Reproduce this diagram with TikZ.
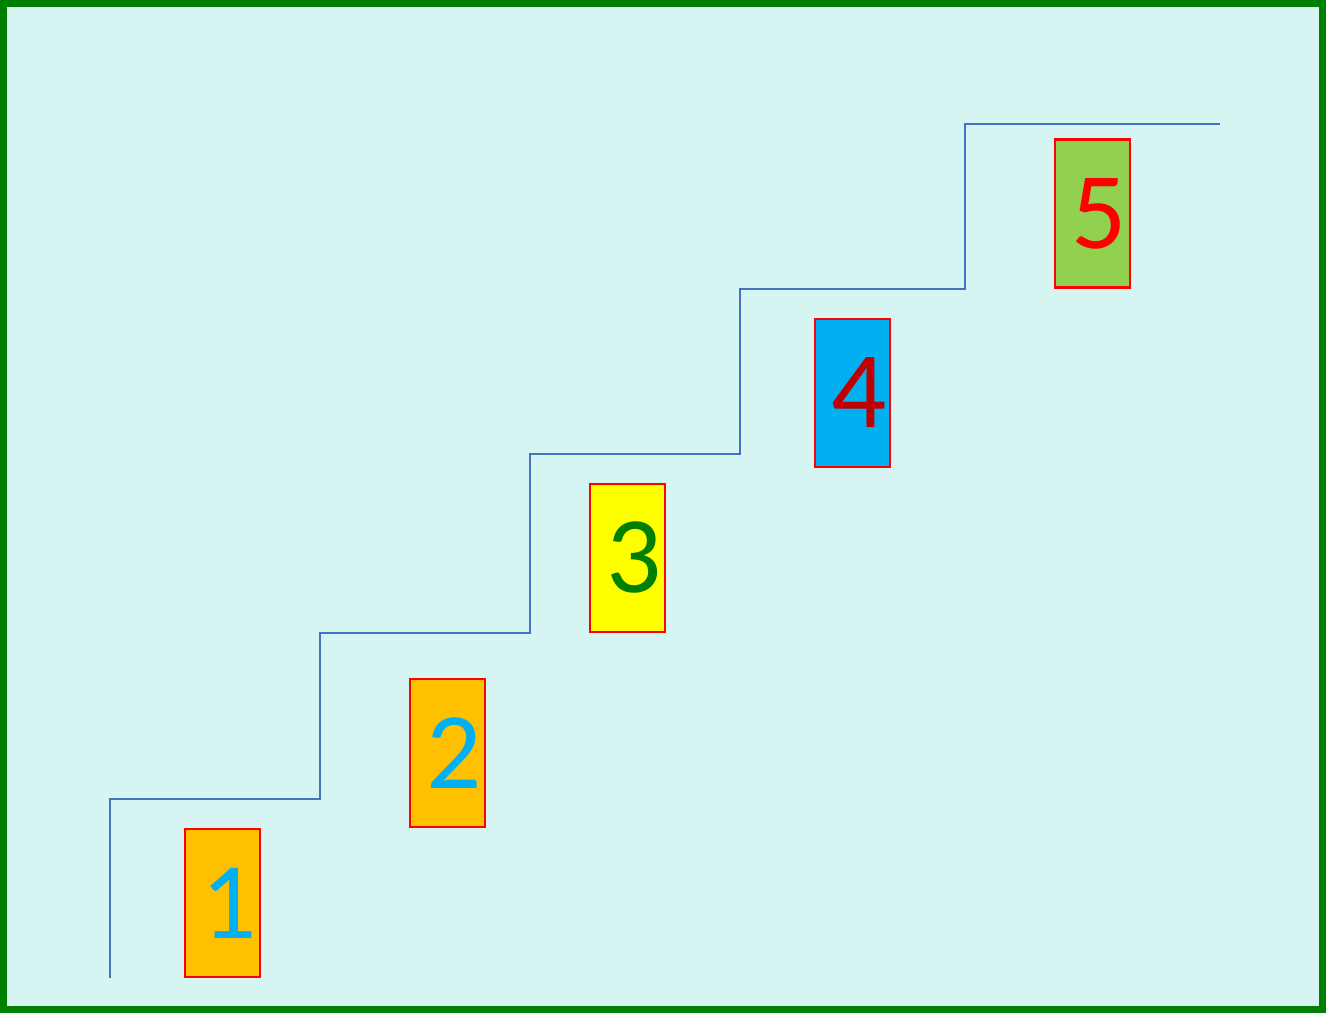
\documentclass[tikz,border=0pt]{standalone}
\usepackage{fontspec}
\setmainfont{Carlito}
\usepackage{tikz}
\usetikzlibrary{positioning}

\definecolor{sfondo}{RGB}{214,245,242}
\definecolor{cornice}{RGB}{0,128,0}
\definecolor{scala}{RGB}{68,114,196}
\definecolor{arancio}{RGB}{255,192,0}
\definecolor{azzurro}{RGB}{0,176,240}
\definecolor{giallo}{RGB}{255,255,0}
\definecolor{verdino}{RGB}{146,208,80}
\definecolor{rossoscuro}{RGB}{192,0,0}

\begin{document}
\begin{tikzpicture}[x=0.01cm, y=-0.01cm,
  gradino/.style={draw=red, line width=0.6pt, inner sep=0pt,
    minimum width=0.75cm, minimum height=1.48cm,
    font=\fontsize{31}{31}\selectfont}]

  \useasboundingbox (0,0) rectangle (1326,1013);

  % --- Sfondo e cornice ---
  \fill[sfondo] (0,0) rectangle (1326,1013);
  \draw[cornice, line width=0.07cm] (3.5,3.5) rectangle (1322.5,1009.5);

  % --- Scala (polilinea a gradino) ---
  \draw[scala, line width=0.5pt]
    (110,978) -- (110,799) -- (320,799) -- (320,633) -- (530,633)
    -- (530,454) -- (740,454) -- (740,289) -- (965,289)
    -- (965,124) -- (1220,124);

  % --- Gradini ---
  \node[gradino, fill=arancio, text=azzurro] (g1)
    at (222.5,903) {\hspace{0.14cm}1};
  \node[gradino, fill=arancio, text=azzurro] (g2)
    at (447.5,753) {\hspace{0.14cm}2};
  \node[gradino, fill=giallo, text=cornice] (g3)
    at (627.5,558) {\hspace{0.14cm}3};
  \node[gradino, fill=azzurro, text=rossoscuro] (g4)
    at (852.5,393) {\hspace{0.14cm}4};
  \node[gradino, fill=verdino, text=red] (g5)
    at (1092.5,213.5) {\hspace{0.14cm}5};

\end{tikzpicture}
\end{document}
